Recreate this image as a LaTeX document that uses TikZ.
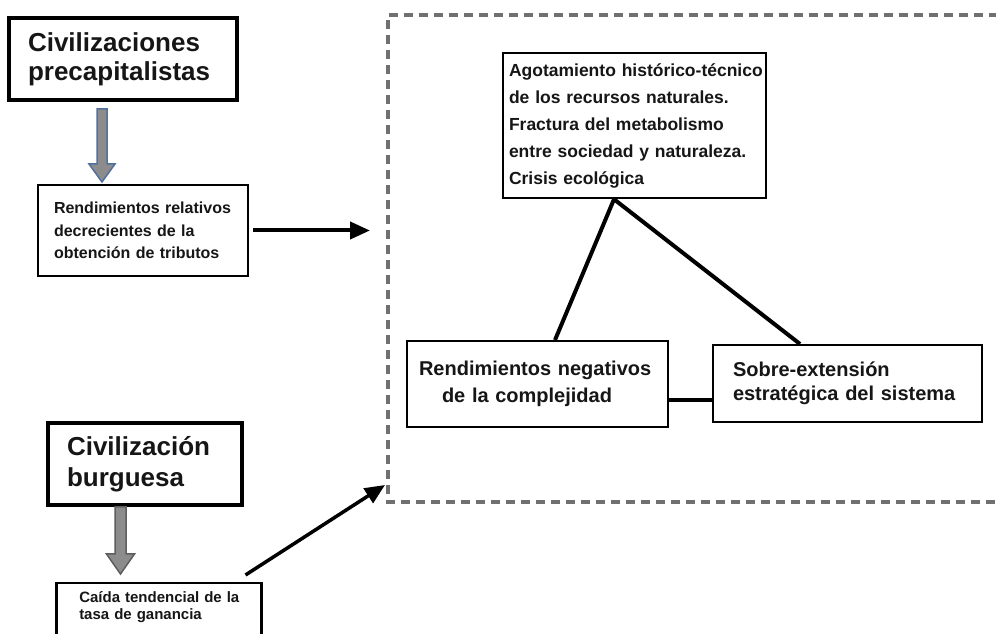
\documentclass[tikz,border=0pt]{standalone}
\usepackage{fontspec}
\setmainfont{Liberation Sans}
\usetikzlibrary{arrows.meta,calc}
\definecolor{txt}{HTML}{161616}
\definecolor{frame}{HTML}{707070}
\definecolor{blkfill}{HTML}{8C8C8C}
\definecolor{blkblue}{HTML}{52709C}
\definecolor{blkgray}{HTML}{5E5E5E}
\begin{document}
\begin{tikzpicture}[x=1pt,y=1pt,
  box/.style={draw=black, rectangle, align=left, text=txt, anchor=center},
  conn/.style={draw=black, line width=4pt},
  arr/.style={draw=black, -{Triangle[length=20pt,width=17pt]}},
  dashframe/.style={draw=frame, line width=4pt, dash pattern=on 9pt off 6pt},
  blockarrow/.style={line width=1.5pt, line join=miter}
]
\useasboundingbox (0,0) rectangle (996,634);
\clip (0,0) rectangle (996,634);
\fill[white] (0,0) rectangle (996,634);

% left column
\node[box, line width=4pt, minimum width=228, minimum height=82, text width=190, inner xsep=19,
  font=\fontsize{26}{29}\selectfont\bfseries] (A) at (123,575) {Civilizaciones\\precapitalistas};
\node[box, line width=2pt, minimum width=210, minimum height=91, text width=178, inner xsep=16,
  font=\fontsize{16}{22.5}\selectfont\bfseries] (B) at (143,403.5)
  {\mbox{Rendimientos relativos}\\decrecientes de la\\obtención de tributos};
\node[box, line width=4pt, minimum width=194, minimum height=82, text width=156, inner xsep=19,
  font=\fontsize{26}{31}\selectfont\bfseries] (C) at (145,170) {Civilización\\burguesa};
\node[box, anchor=north west, line width=2.5pt, minimum width=205, text width=159, inner xsep=23, inner ysep=8,
  text depth=40pt, font=\fontsize{15}{17}\selectfont\bfseries] (D) at (55,52)
  {\mbox{Caída tendencial de la}\\tasa de ganancia};

% right group
\node[box, line width=2.5pt, minimum width=263, minimum height=145, text width=251, inner xsep=6,
  font=\fontsize{17.5}{27}\selectfont\bfseries] (E) at (634.5,508.5)
  {\mbox{Agotamiento histórico-técnico}\\de los recursos naturales.\\Fractura del metabolismo\\entre sociedad y naturaleza.\\Crisis ecológica};
\node[box, line width=2pt, minimum width=261, minimum height=86, text width=237, inner xsep=12,
  font=\fontsize{20}{27}\selectfont\bfseries] (F) at (537.5,250)
  {\mbox{Rendimientos negativos}\\\hspace*{23pt}de la complejidad};
\node[box, line width=2pt, minimum width=269, minimum height=77, text width=229, inner xsep=20,
  font=\fontsize{20}{24}\selectfont\bfseries] (G) at (847.5,250.5)
  {Sobre-extensión\\\mbox{estratégica del sistema}};

% dashed frame
\draw[dashframe] (1010,132) -- (388,132) -- (388,619) -- (1010,619);
\coordinate (fw) at (370,403.5);
\coordinate (fsw) at (385,149);

% triangle connectors
\draw[conn] ([xshift=-20.5pt]E.south) -- ([xshift=17.5pt]F.north);
\draw[conn] ([xshift=-20.5pt]E.south) -- ([xshift=-47.5pt]G.north);
\draw[conn] ([yshift=-16pt]F.east) -- ([yshift=-16pt]F.east -| G.west);

% arrows to frame
\draw[arr, line width=4pt] ([xshift=4pt]B.east) -- (fw);
\draw[arr, line width=3.5pt] ([xshift=-17pt,yshift=7pt]D.north east) -- (fsw);

% block arrows
\coordinate (ga) at ($(A.south west)+(95,-7)$);
\draw[blockarrow, fill=blkfill, draw=blkblue] (ga) ++(-5,0) -- ++(0,-55) -- ++(-8,0) -- ++(13,-18) -- ++(13,18) -- ++(-8,0) -- ++(0,55) -- cycle;
\coordinate (gb) at ($(C.south west)+(74.5,0)$);
\draw[blockarrow, fill=blkfill, draw=blkgray] (gb) ++(-5.5,0) -- ++(0,-47) -- ++(-8.5,0) -- ++(14,-20) -- ++(14,20) -- ++(-8.5,0) -- ++(0,47) -- cycle;
\end{tikzpicture}
\end{document}
